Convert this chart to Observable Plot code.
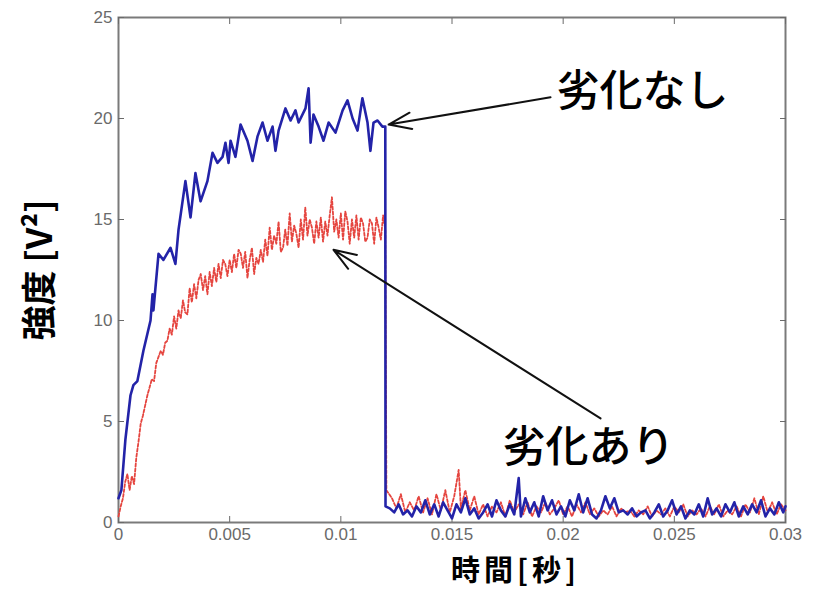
<!DOCTYPE html>
<html>
<head>
<meta charset="utf-8">
<script src="https://cdn.jsdelivr.net/npm/d3@7"></script>
<script src="https://cdn.jsdelivr.net/npm/@observablehq/plot@0.6"></script>
<style>
  html, body { margin: 0; padding: 0; background: #fff; }
  #chart svg { display: block; }
  #xlabel {
    width: 814px;
    height: 43px;
    box-sizing: border-box;
    padding-left: 217px;
    text-align: center;
    font-family: 'Noto Sans CJK JP', 'Noto Sans', sans-serif;
    font-weight: bold;
    font-size: 29px;
    letter-spacing: 4px;
    line-height: 43px;
    color: #000;
  }
</style>
</head>
<body>
<div id="chart"></div>
<div id="xlabel"></div>
<script>
// Signal intensity [V^2] over time [s], two cases: without and with degradation.
const xTicks = [0, 0.005, 0.01, 0.015, 0.02, 0.025, 0.03];
const yTicks = [0, 5, 10, 15, 20, 25];

// 劣化なし (no degradation): [time s, intensity V^2]
const noDegradation = [
  [0, 1.2], [0.00013, 1.6], [0.00031, 4.1], [0.00054, 6.3], [0.00067, 6.8], [0.00085, 7.0],
  [0.00112, 8.5], [0.00144, 10.0], [0.00153, 11.3], [0.00157, 10.5], [0.0018, 13.3], [0.00202, 13.0],
  [0.00234, 13.6], [0.00256, 12.8], [0.0027, 14.5], [0.00301, 16.9], [0.00324, 15.1], [0.00346, 17.3],
  [0.00369, 15.9], [0.004, 16.9], [0.00423, 18.3], [0.00445, 17.8], [0.00468, 18.1], [0.00481, 18.8],
  [0.00495, 17.8], [0.00504, 18.9], [0.00526, 18.1], [0.00549, 19.7], [0.0058, 18.9], [0.00603, 17.9],
  [0.00625, 19.1], [0.00648, 19.8], [0.0067, 18.9], [0.00693, 19.6], [0.00706, 18.4], [0.0072, 19.4],
  [0.00751, 20.5], [0.00774, 19.9], [0.00796, 20.4], [0.0081, 19.8], [0.00841, 20.5], [0.00855, 21.5],
  [0.00864, 18.8], [0.00877, 20.2], [0.009, 19.6], [0.00922, 18.9], [0.00945, 19.8], [0.00976, 19.3],
  [0.01008, 20.4], [0.0103, 20.9], [0.01053, 20.0], [0.01075, 19.4], [0.01097, 21.0], [0.0112, 19.8],
  [0.01133, 18.4], [0.01147, 19.8], [0.01165, 19.9], [0.01187, 19.6], [0.012, 19.6], [0.01201, 0.8],
  [0.0122, 0.7], [0.0124, 0.5], [0.0126, 0.9], [0.0128, 0.4], [0.013, 0.6], [0.0132, 0.3],
  [0.0134, 0.8], [0.0136, 0.5], [0.0138, 1.1], [0.014, 0.4], [0.0142, 0.9], [0.0144, 0.3],
  [0.0146, 1.0], [0.0148, 0.6], [0.015, 0.2], [0.0152, 0.9], [0.0154, 0.5], [0.0156, 1.2],
  [0.0158, 0.4], [0.016, 0.7], [0.0162, 0.2], [0.0164, 0.5], [0.0166, 0.9], [0.0168, 0.3],
  [0.017, 1.1], [0.0172, 0.6], [0.0174, 0.3], [0.0176, 0.9], [0.0178, 0.4], [0.018, 2.2],
  [0.0181, 0.3], [0.0183, 1.2], [0.0185, 0.5], [0.0187, 1.0], [0.0189, 0.3], [0.0191, 1.3],
  [0.0193, 0.6], [0.0195, 1.1], [0.0197, 0.4], [0.0199, 0.8], [0.0201, 0.3], [0.0203, 1.1],
  [0.0205, 0.6], [0.0207, 1.4], [0.0209, 0.5], [0.0211, 1.2], [0.0213, 0.4], [0.0215, 0.2],
  [0.0217, 0.6], [0.0219, 1.3], [0.0221, 0.7], [0.0223, 1.2], [0.0225, 0.5], [0.0227, 0.6],
  [0.0229, 0.4], [0.0231, 0.7], [0.0233, 0.3], [0.0235, 0.5], [0.0237, 0.6], [0.0239, 0.2],
  [0.0241, 0.5], [0.0243, 0.9], [0.0245, 0.3], [0.0247, 0.6], [0.0249, 1.1], [0.0251, 0.4],
  [0.0253, 0.8], [0.0255, 0.2], [0.0257, 0.6], [0.0259, 0.4], [0.0261, 0.9], [0.0263, 0.3],
  [0.0265, 1.2], [0.0267, 0.4], [0.0269, 0.7], [0.0271, 0.3], [0.0273, 0.9], [0.0275, 0.5],
  [0.0277, 1.0], [0.0279, 0.3], [0.0281, 0.8], [0.0283, 0.4], [0.0285, 0.9], [0.0287, 0.5],
  [0.0289, 1.1], [0.0291, 0.3], [0.0293, 0.7], [0.0295, 0.4], [0.0297, 1.0], [0.0299, 0.5],
  [0.03, 0.8]
];

// 劣化あり (degraded): [time s, intensity V^2]
const degraded = [
  [0, 0.3], [0.0001, 0.8], [0.0002, 1.2], [0.0003, 2.0], [0.0004, 2.4], [0.0005, 1.6],
  [0.0006, 2.3], [0.0007, 1.9], [0.0008, 3.2], [0.0009, 4.0], [0.001, 4.9], [0.0011, 5.3],
  [0.0012, 5.8], [0.0013, 6.3], [0.0014, 6.7], [0.0015, 7.1], [0.0016, 7.0], [0.0017, 7.9],
  [0.0018, 8.2], [0.0019, 8.5], [0.002, 8.3], [0.0021, 8.9], [0.0022, 9.0], [0.0023, 9.6],
  [0.0024, 9.3], [0.0025, 10.2], [0.0026, 9.6], [0.0027, 10.5], [0.0028, 10.1], [0.0029, 11.0],
  [0.003, 10.4], [0.0031, 10.3], [0.0032, 11.6], [0.0033, 10.9], [0.0034, 11.8], [0.0035, 11.1],
  [0.0036, 12.0], [0.0037, 12.3], [0.0038, 11.5], [0.0039, 12.2], [0.004, 11.3], [0.0041, 12.4],
  [0.0042, 11.7], [0.0043, 12.6], [0.0044, 11.9], [0.0045, 12.8], [0.0046, 12.1], [0.0047, 13.0],
  [0.0048, 12.8], [0.0049, 12.2], [0.005, 13.0], [0.0051, 12.4], [0.0052, 13.3], [0.0053, 12.6],
  [0.0054, 13.5], [0.0055, 13.3], [0.0056, 12.6], [0.0057, 13.4], [0.0058, 12.1], [0.0059, 13.0],
  [0.006, 13.6], [0.0061, 12.3], [0.0062, 13.1], [0.0063, 12.8], [0.0064, 13.5], [0.0065, 12.9],
  [0.0066, 14.0], [0.0067, 13.2], [0.0068, 14.6], [0.0069, 13.5], [0.007, 14.2], [0.0071, 13.8],
  [0.0072, 14.9], [0.0073, 13.4], [0.0074, 13.6], [0.0075, 14.5], [0.0076, 13.7], [0.0077, 15.3],
  [0.0078, 13.9], [0.0079, 14.7], [0.008, 14.3], [0.0081, 13.6], [0.0082, 15.0], [0.0083, 14.0],
  [0.0084, 15.6], [0.0085, 14.2], [0.0086, 15.0], [0.0087, 14.6], [0.0088, 13.8], [0.0089, 14.9],
  [0.009, 14.1], [0.0091, 15.1], [0.0092, 13.9], [0.0093, 14.9], [0.0094, 14.2], [0.0095, 15.2],
  [0.0096, 16.1], [0.0097, 14.4], [0.0098, 15.0], [0.0099, 14.1], [0.01, 15.3], [0.0101, 14.0],
  [0.0102, 15.4], [0.0103, 14.9], [0.0104, 13.8], [0.0105, 15.0], [0.0106, 14.1], [0.0107, 15.2],
  [0.0108, 14.0], [0.0109, 15.1], [0.011, 14.8], [0.0111, 13.9], [0.0112, 14.1], [0.0113, 15.0],
  [0.0114, 14.8], [0.0115, 13.8], [0.0116, 15.1], [0.0117, 14.6], [0.0118, 14.0], [0.0119, 15.2],
  [0.012, 14.5], [0.01205, 1.6], [0.0123, 1.2], [0.0125, 0.7], [0.0127, 1.4], [0.0129, 0.5],
  [0.0131, 1.0], [0.0133, 0.6], [0.0135, 1.3], [0.0137, 0.5], [0.0139, 1.2], [0.0141, 0.4],
  [0.0143, 1.4], [0.0145, 0.6], [0.0147, 1.6], [0.0149, 0.5], [0.0151, 1.3], [0.0153, 2.6],
  [0.0154, 0.7], [0.0156, 1.6], [0.0158, 0.6], [0.016, 1.3], [0.0162, 0.4], [0.0164, 0.9],
  [0.0166, 0.3], [0.0168, 0.8], [0.017, 0.5], [0.0172, 1.0], [0.0174, 0.3], [0.0176, 1.1],
  [0.0178, 0.5], [0.018, 0.9], [0.0182, 0.4], [0.0184, 1.0], [0.0186, 0.3], [0.0188, 0.8],
  [0.019, 0.5], [0.0192, 1.0], [0.0194, 0.4], [0.0196, 0.7], [0.0198, 1.1], [0.02, 0.4],
  [0.0202, 0.8], [0.0204, 0.3], [0.0206, 0.9], [0.0208, 0.5], [0.021, 1.0], [0.0212, 0.4],
  [0.0214, 0.7], [0.0216, 0.3], [0.0218, 0.6], [0.022, 0.4], [0.0222, 0.8], [0.0224, 0.3],
  [0.0226, 0.7], [0.0228, 0.5], [0.023, 0.6], [0.0232, 0.3], [0.0234, 0.6], [0.0236, 0.4],
  [0.0238, 0.8], [0.024, 0.3], [0.0242, 0.6], [0.0244, 0.4], [0.0246, 0.7], [0.0248, 0.3],
  [0.025, 0.8], [0.0252, 0.5], [0.0254, 0.9], [0.0256, 0.3], [0.0258, 0.6], [0.026, 0.4],
  [0.0262, 0.7], [0.0264, 0.3], [0.0266, 0.8], [0.0268, 0.4], [0.027, 0.9], [0.0272, 0.3],
  [0.0274, 0.6], [0.0276, 0.4], [0.0278, 0.8], [0.028, 0.3], [0.0282, 0.9], [0.0284, 0.5],
  [0.0286, 1.2], [0.0288, 0.4], [0.029, 1.3], [0.0292, 0.5], [0.0294, 1.0], [0.0296, 0.4],
  [0.0298, 0.9], [0.03, 0.6]
];

// Callout labels and the arrows pointing from them to each curve
const notes = [
  {label: "劣化なし", t: 0.02357, v: 21.3},
  {label: "劣化あり", t: 0.02114, v: 3.7}
];
const pointers = [
  {t1: 0.01943, v1: 21.05, t2: 0.01215, v2: 19.7},
  {t1: 0.02168, v1: 5.15, t2: 0.00967, v2: 13.5}
];

const xLabel = "時間[秒]";
const yLabel = "強度 [V²]";

const cjk = "'Noto Sans CJK JP', 'Noto Sans', sans-serif";
const tickColor = "#6a6a6a";

const chart = Plot.plot({
  width: 814,
  height: 547,
  marginLeft: 118,
  marginRight: 29,
  marginTop: 17,
  marginBottom: 25,
  style: {fontFamily: "'Liberation Sans', Arial, sans-serif", background: "#fff"},
  x: {domain: [0, 0.03], label: null},
  y: {domain: [0, 25], label: null},
  marks: [
    Plot.frame({stroke: "#7a7a7a", strokeWidth: 2}),
    Plot.axisX(xTicks, {anchor: "bottom", tickSize: -6, tickPadding: 11, tickFormat: d => `${d}`,
      fontSize: 17, color: tickColor, label: null}),
    Plot.axisX(xTicks, {anchor: "top", tickSize: -6, tickFormat: () => "", color: tickColor, label: null}),
    Plot.axisY(yTicks, {anchor: "left", tickSize: -6, tickPadding: 12, fontSize: 17, color: tickColor, label: null}),
    Plot.axisY(yTicks, {anchor: "right", tickSize: -6, tickFormat: () => "", color: tickColor, label: null}),
    Plot.line(degraded, {x: d => d[0], y: d => d[1], stroke: "#e5453f", strokeWidth: 1.8,
      strokeDasharray: "3,2"}),
    Plot.line(noDegradation, {x: d => d[0], y: d => d[1], stroke: "#2323a8", strokeWidth: 2.6}),
    Plot.arrow(pointers, {x1: "t1", y1: "v1", x2: "t2", y2: "v2", stroke: "#111",
      strokeWidth: 2, headLength: 18, headAngle: 40}),
    Plot.text(notes, {x: "t", y: "v", text: "label", fontSize: 43, fontFamily: cjk,
      fontWeight: 500, fill: "#000"}),
    Plot.text([yLabel], {frameAnchor: "left", textAnchor: "middle", lineAnchor: "middle",
      dx: -78, rotate: -90, fontSize: 35, fontFamily: cjk, fontWeight: "bold", fill: "#000"})
  ]
});

document.getElementById("chart").append(chart);
document.getElementById("xlabel").textContent = xLabel;
</script>
</body>
</html>
